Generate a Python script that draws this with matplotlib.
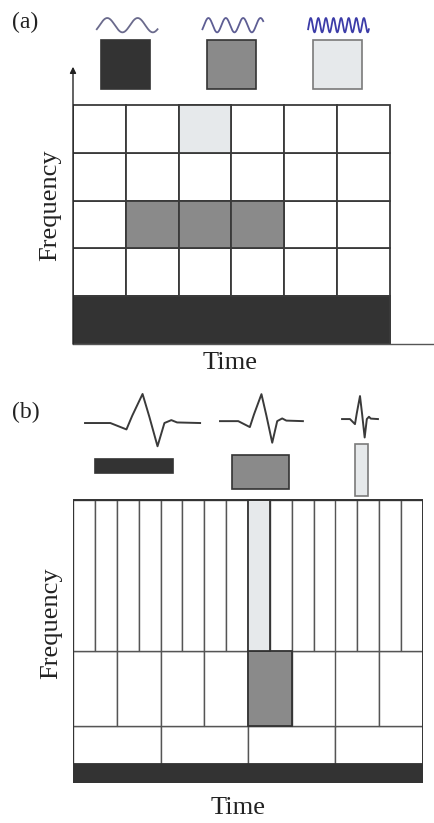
import numpy as np
import matplotlib
matplotlib.use("Agg")
import matplotlib.pyplot as plt
from matplotlib.patches import Rectangle

plt.rcParams['font.family'] = ['Liberation Serif', 'DejaVu Serif']

# ---- data ----
# (a) STFT: uniform tiling, 6 time slots x 5 frequency bands
stft_n_time = 6
stft_n_freq = 5
stft_cells = [  # (time slot, freq band, shade)
    (2, 4, 'light'),
    (1, 2, 'mid'), (2, 2, 'mid'), (3, 2, 'mid'),
]
stft_full_band = (0, 'dark')          # lowest band covers all time
stft_wave_cycles = [2, 3.5, 8]        # window oscillations (dark, mid, light)
stft_wave_colors = ['#6a6a8c', '#5e5e94', '#3c3ca8']

# (b) wavelet: dyadic tiling, band heights and number of time slots
wt_band_heights = [1, 2, 4, 8]
wt_band_slots = [1, 4, 8, 16]
wt_cells = [  # (band, slot, shade)
    (0, 0, 'dark'),
    (2, 4, 'mid'),
    (3, 8, 'light'),
]
# mother wavelet shape (t along width, v in peak units)
mother_t = [0, 0.22, 0.36, 0.41, 0.50, 0.56, 0.63, 0.69, 0.75, 0.80, 1.0]
mother_v = [0, 0, -0.22, 0.25, 1.0, 0.2, -0.8, 0, 0.1, 0.02, 0]

shades = {'dark': '#333333', 'mid': '#8a8a8a', 'light': '#e6e9eb'}
line_c = '#3a3a3a'

W, H = 435, 823
fig = plt.figure(figsize=(W / 100, H / 100), dpi=100)


def px_axes(x0, y0, x1, y1):
    return fig.add_axes([x0 / W, 1 - y1 / H, (x1 - x0) / W, (y1 - y0) / H])


# ================= (a) =================
col_w = (390 - 73) / stft_n_time
row_h = (344 - 105) / stft_n_freq
ax = px_axes(73, 10, 435, 344)
ax.set_xlim(0, (435 - 73) / col_w)
ax.set_ylim(0, (344 - 10) / row_h)
ax.axis('off')

for c in range(stft_n_time):
    for r in range(stft_n_freq):
        ax.add_patch(Rectangle((c, r), 1, 1, facecolor='white',
                               edgecolor=line_c, lw=1.3))
for c, r, s in stft_cells:
    ax.add_patch(Rectangle((c, r), 1, 1, facecolor=shades[s],
                           edgecolor=line_c, lw=1.3))
band, s = stft_full_band
ax.add_patch(Rectangle((0, band), stft_n_time, 1, facecolor=shades[s],
                       edgecolor=line_c, lw=1.3))

# axes arrows
ax.annotate('', xy=(0, 5.8), xytext=(0, 0),
            arrowprops=dict(arrowstyle='-|>', color='#222222', lw=1.0,
                            mutation_scale=9, shrinkA=0, shrinkB=0))
ax.plot([0, (435 - 73) / col_w], [0, 0], color='#555555', lw=1.0,
        clip_on=False)

# window icons
for i, (cyc, wc) in enumerate(zip(stft_wave_cycles, stft_wave_colors)):
    cx = 1 + 2 * i
    key = ['dark', 'mid', 'light'][i]
    ax.add_patch(Rectangle((cx - 0.465, 5.33), 0.93, 1.02,
                           facecolor=shades[key],
                           edgecolor='#333333' if key != 'light' else '#7a7a7a',
                           lw=1.2, clip_on=False))
    t = np.linspace(0, 1, 300)
    x0, x1 = cx - 0.55, cx + 0.6
    ax.plot(x0 + (x1 - x0) * t, 6.67 + 0.15 * np.sin(2 * np.pi * cyc * t - 0.6),
            color=wc, lw=1.3, clip_on=False)

fig.text(12 / W, 1 - 22 / H, '(a)', fontsize=17, va='center', ha='left',
         color='#222222')
fig.text(50 / W, 1 - 205 / H, 'Frequency', fontsize=19, rotation=90,
         va='center', ha='center', color='#222222')
fig.text(230 / W, 1 - 363 / H, 'Time', fontsize=19, va='center',
         ha='center', color='#222222')

# ================= (b) =================
n_slots = wt_band_slots[-1]
unit_h = (783 - 500) / sum(wt_band_heights)
bx = px_axes(73, 385, 423, 783)
bx.set_xlim(0, n_slots)
bx.set_ylim(0, (783 - 385) / unit_h)
bx.axis('off')

y = 0
band_y = []
for h, n in zip(wt_band_heights, wt_band_slots):
    band_y.append(y)
    w = n_slots / n
    for k in range(n):
        bx.add_patch(Rectangle((k * w, y), w, h, facecolor='white',
                               edgecolor='#555555', lw=1.0))
    y += h
for b, k, s in wt_cells:
    w = n_slots / wt_band_slots[b]
    bx.add_patch(Rectangle((k * w, band_y[b]), w, wt_band_heights[b],
                           facecolor=shades[s], edgecolor='#333333', lw=1.3))
bx.add_patch(Rectangle((0, 0), n_slots, sum(wt_band_heights),
                       facecolor='none', edgecolor='#333333', lw=1.4))

# atom icons: boxes and wavelets
icon_boxes = [((1.01, 16.43), 3.56, 0.74, 'dark'),
              ((7.27, 15.58), 2.60, 1.80, 'mid'),
              ((12.89, 15.21), 0.60, 2.76, 'light')]
for (x0, y0), w, h, key in icon_boxes:
    bx.add_patch(Rectangle((x0, y0), w, h, facecolor=shades[key],
                           edgecolor='#333333' if key != 'light' else '#7a7a7a',
                           lw=1.2, clip_on=False))
wavelet_frames = [(0.55, 5.81, 19.08, 1.54),
                  (6.72, 10.51, 19.18, 1.43),
                  (12.30, 13.94, 19.29, 1.22)]
for x0, x1, base, amp in wavelet_frames:
    bx.plot(x0 + (x1 - x0) * np.array(mother_t),
            base + amp * np.array(mother_v),
            color='#3a3a3a', lw=1.4, clip_on=False)

fig.text(12 / W, 1 - 412 / H, '(b)', fontsize=17, va='center', ha='left',
         color='#222222')
fig.text(51 / W, 1 - 623 / H, 'Frequency', fontsize=19, rotation=90,
         va='center', ha='center', color='#222222')
fig.text(238 / W, 1 - 808 / H, 'Time', fontsize=19, va='center',
         ha='center', color='#222222')

fig.savefig('out.png', dpi=100)
